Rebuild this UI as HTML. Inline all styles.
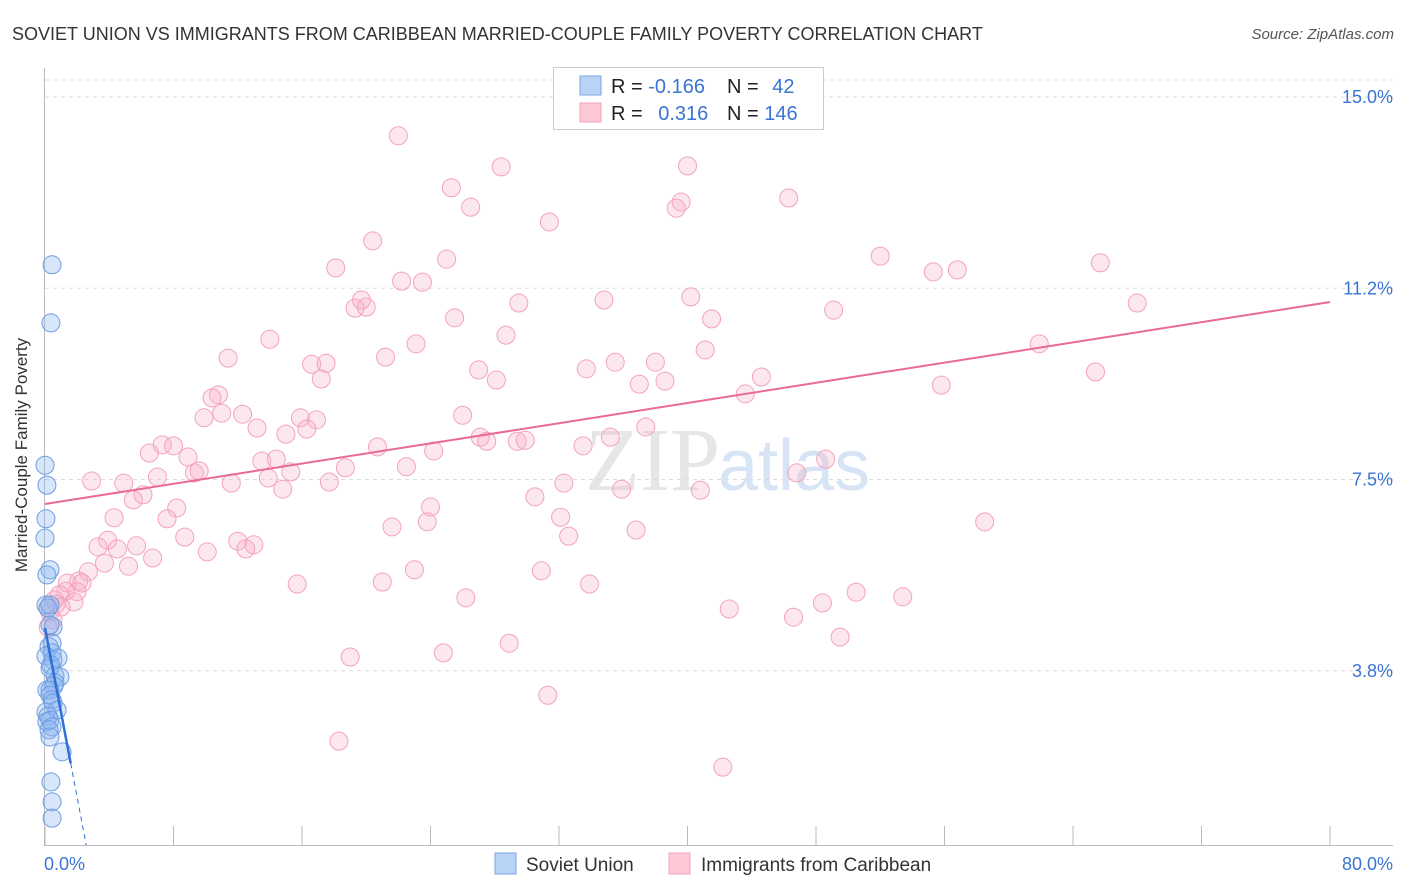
<!DOCTYPE html>
<html><head><meta charset="utf-8"><style>
body{margin:0;background:#fff;font-family:"Liberation Sans",sans-serif}
svg{display:block}
</style></head><body>
<svg id="chart" width="1406" height="892" xmlns="http://www.w3.org/2000/svg">
<text x="12" y="40" font-size="18" fill="#333">SOVIET UNION VS IMMIGRANTS FROM CARIBBEAN MARRIED-COUPLE FAMILY POVERTY CORRELATION CHART</text>
<text x="1394" y="39" font-size="15" fill="#555" font-style="italic" text-anchor="end">Source: ZipAtlas.com</text>
<text x="720" y="490" font-size="90" fill="#e6e6e6" text-anchor="end" font-family="Liberation Serif">ZIP</text>
<text x="718" y="490" font-size="72" fill="#d6e4f5">atlas</text>
<g id="grid"></g>
<g id="axes"></g>
<g id="pts"></g>
<g id="trend"></g>
<text x="27" y="455" font-size="17" fill="#333" text-anchor="middle" transform="rotate(-90 27 455)">Married-Couple Family Poverty</text>
<g>
<rect x="553.5" y="67.5" width="270" height="62" fill="#fff" stroke="#ccc"/>
<rect x="580" y="76" width="21" height="19" fill="#b9d3f5" stroke="#7aa6e6"/>
<rect x="580" y="103" width="21" height="19" fill="#fcc8d6" stroke="#f2a4bb"/>
<text x="611" y="93" font-size="20" fill="#222">R = <tspan fill="#3a74d4">-0.166</tspan></text>
<text x="727" y="93" font-size="20" fill="#222">N = <tspan fill="#3a74d4" dx="8">42</tspan></text>
<text x="611" y="120" font-size="20" fill="#222">R = <tspan fill="#3a74d4" dx="10">0.316</tspan></text>
<text x="727" y="120" font-size="20" fill="#222">N = <tspan fill="#3a74d4">146</tspan></text>
</g>
<g>
<rect x="495" y="853" width="21" height="21" fill="#b9d3f5" stroke="#7aa6e6"/>
<text x="526" y="871" font-size="19" fill="#333">Soviet Union</text>
<rect x="669" y="853" width="21" height="21" fill="#fcc8d6" stroke="#f2a4bb"/>
<text x="701" y="871" font-size="19" fill="#333">Immigrants from Caribbean</text>
</g>
</svg>
<script>
const yTicks=[3.75,7.5,11.25,15];
const yTickLabels=["3.8%","7.5%","11.2%","15.0%"];
const xTicks=[0,8,16,24,32,40,48,56,64,72,80];
const xTickLabels=["0.0%","80.0%"];
const blueX=[0.44,0.37,0,0.12,0.06,0,0.31,0.12,0.06,0.19,0.31,0.5,0.31,0.44,0.25,0.44,0.06,0.5,0.81,0.31,0.37,0.62,0.93,0.62,0.56,0.12,0.31,0.31,0.44,0.5,0.75,0.06,0.19,0.31,0.12,0.44,0.25,0.31,1.06,0.37,0.44,0.44];
const blueY=[11.71,10.57,7.78,7.39,6.73,6.35,5.73,5.63,5.04,4.98,5.04,4.61,4.65,4.29,4.22,4.10,4.04,3.96,4.0,3.80,3.86,3.65,3.63,3.51,3.45,3.37,3.37,3.27,3.18,3.12,2.98,2.94,2.86,2.78,2.75,2.65,2.59,2.45,2.16,1.57,1.18,0.86];
const pinkX=[22.0,28.4,40.0,25.3,26.5,39.6,39.3,46.3,31.4,20.4,18.1,25.0,22.2,23.5,52.0,55.3,56.8,65.7,68.0,19.7,19.3,20.0,29.5,34.8,40.2,49.1,25.5,41.5,14.0,28.7,23.1,41.1,11.4,21.2,16.6,17.5,35.5,38.0,61.9,27.0,33.7,44.6,65.4,17.2,28.1,37.0,38.6,55.8,10.8,10.4,43.6,9.9,11.0,12.3,15.9,16.9,26.0,13.2,15.0,16.3,37.4,27.1,27.5,29.4,29.9,35.2,33.5,20.7,24.2,7.3,8.0,6.5,8.9,13.5,14.4,48.6,18.7,22.5,9.3,9.6,15.3,46.8,7.0,2.9,4.9,11.6,13.9,17.7,32.3,14.8,6.1,35.9,40.8,5.5,30.5,8.2,24.0,4.3,7.6,32.1,23.8,21.6,36.8,58.5,3.9,3.3,5.7,8.7,12.0,13.0,4.5,12.5,10.1,32.6,6.7,3.7,5.2,2.7,23.0,30.9,1.4,2.1,2.3,15.7,21.0,33.9,1.3,0.9,0.6,0.7,26.2,50.5,53.4,48.4,42.6,46.6,49.5,28.9,24.8,19.0,31.3,18.3,42.2,37.6,0.3,1.8,0.5,1.0,2.0,0.2];
const pinkY=[14.24,13.63,13.65,13.22,12.84,12.94,12.82,13.02,12.55,12.18,11.65,11.82,11.39,11.37,11.88,11.57,11.61,11.75,10.96,11.02,10.86,10.88,10.96,11.02,11.08,10.82,10.67,10.65,10.25,10.33,10.16,10.04,9.88,9.90,9.76,9.78,9.80,9.80,10.16,9.65,9.67,9.51,9.61,9.47,9.45,9.37,9.43,9.35,9.16,9.10,9.18,8.71,8.80,8.78,8.71,8.67,8.76,8.51,8.39,8.49,8.53,8.33,8.25,8.25,8.27,8.33,8.16,8.14,8.06,8.18,8.16,8.02,7.94,7.86,7.90,7.90,7.73,7.75,7.63,7.67,7.65,7.63,7.55,7.47,7.43,7.43,7.53,7.45,7.43,7.31,7.20,7.31,7.29,7.10,7.16,6.94,6.96,6.75,6.73,6.76,6.67,6.57,6.51,6.67,6.31,6.18,6.20,6.37,6.29,6.22,6.14,6.14,6.08,6.39,5.96,5.86,5.80,5.69,5.73,5.71,5.47,5.51,5.47,5.45,5.49,5.45,5.31,5.24,5.14,5.06,5.18,5.29,5.20,5.08,4.96,4.80,4.41,4.29,4.10,4.02,3.27,2.37,1.86,14.96,4.90,5.1,4.75,5.0,5.3,4.6];
const pinkTrend=[7.02,10.98];
const blueTrend=[4.59,-1.66];
const NS="http://www.w3.org/2000/svg";
const X0=45,X1=1330,YB=862,PPU=51.0;
const sx=v=>X0+v/80*(X1-X0);
const sy=v=>YB-v*PPU;
function mk(tag,attrs,parent){const e=document.createElementNS(NS,tag);for(const k in attrs)e.setAttribute(k,attrs[k]);document.getElementById(parent).appendChild(e);return e;}
// grid
mk('line',{x1:45,x2:1393,y1:80,y2:80,stroke:'#ddd','stroke-dasharray':'4,4'},'grid');
yTicks.forEach((t,i)=>{
 const l=mk('line',{x1:45,x2:1393,y1:sy(t),y2:sy(t),stroke:'#ddd','stroke-dasharray':'4,4'},'grid');
 
 
 const tx=mk('text',{x:1393,y:sy(t)+6,'font-size':18,fill:'#3a74d4','text-anchor':'end'},'grid');
 tx.textContent=yTickLabels[i];
 
 
});
// axes
const ya=mk('line',{x1:44.5,x2:44.5,y1:68,y2:845,stroke:'#bbb'},'axes');


const xa=mk('line',{x1:44,x2:1393,y1:845.5,y2:845.5,stroke:'#bbb'},'axes');


xTicks.forEach(t=>{const l=mk('line',{x1:sx(t),x2:sx(t),y1:826,y2:845,stroke:'#bbb'},'axes');
 
 });
const xl0=mk('text',{x:44,y:870,'font-size':18,fill:'#3a74d4'},'axes');xl0.textContent=xTickLabels[0];


const xl1=mk('text',{x:1393,y:870,'font-size':18,fill:'#3a74d4','text-anchor':'end'},'axes');xl1.textContent=xTickLabels[1];


// points
pinkX.forEach((x,i)=>{const c=mk('circle',{cx:sx(x),cy:sy(pinkY[i]),r:9,fill:'rgba(248,175,198,0.3)',stroke:'#f3a3bb','stroke-width':1},'pts');
 
 });
blueX.forEach((x,i)=>{const c=mk('circle',{cx:sx(x),cy:sy(blueY[i]),r:9,fill:'rgba(140,182,240,0.35)',stroke:'#6f9de2','stroke-width':1},'pts');
 
 });
// trends
const pt=mk('line',{x1:sx(0),y1:sy(pinkTrend[0]),x2:sx(80),y2:sy(pinkTrend[1]),stroke:'#e96a96','stroke-width':2},'trend');


const bEnd=1.6, bZero=(0.33-blueTrend[0])/blueTrend[1];
const bt=mk('line',{x1:sx(0),y1:sy(blueTrend[0]),x2:sx(bEnd),y2:sy(blueTrend[0]+blueTrend[1]*bEnd),stroke:'#2f6fd6','stroke-width':2.5},'trend');


const bd=mk('line',{x1:sx(bEnd),y1:sy(blueTrend[0]+blueTrend[1]*bEnd),x2:sx(bZero),y2:sy(0.33),stroke:'#2f6fd6','stroke-width':1,'stroke-dasharray':'5,4'},'trend');


</script>
</body></html>
